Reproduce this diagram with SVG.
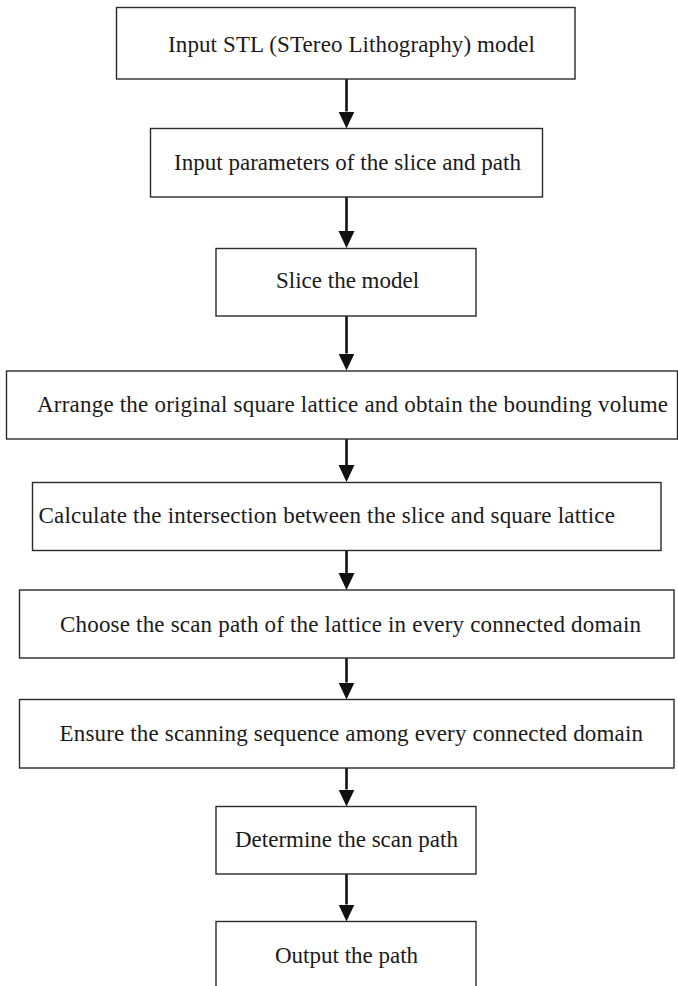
<svg xmlns="http://www.w3.org/2000/svg" width="678" height="986" viewBox="0 0 678 986">
<style>
.box{fill:#fff;stroke:#2a2a2a;stroke-width:1.4}
.lbl{font-family:"Liberation Serif","Times New Roman",serif;font-size:23px;fill:#1a1a1a}
.arr{stroke:#111;stroke-width:2.6;fill:none}
</style>
<defs>
<marker id="ah" markerUnits="userSpaceOnUse" markerWidth="17" markerHeight="17" refX="0" refY="8" orient="auto" viewBox="0 0 17 16">
<path d="M0,0 L17,8 L0,16 Z" fill="#111"/>
</marker>
</defs>
<rect width="678" height="986" fill="#fff"/>
<g id="connectors">
<line class="arr" x1="346.5" y1="79" x2="346.5" y2="111.5" marker-end="url(#ah)"/>
<line class="arr" x1="346.5" y1="197" x2="346.5" y2="231" marker-end="url(#ah)"/>
<line class="arr" x1="346.5" y1="316" x2="346.5" y2="353.5" marker-end="url(#ah)"/>
<line class="arr" x1="346.5" y1="439" x2="346.5" y2="465" marker-end="url(#ah)"/>
<line class="arr" x1="346.5" y1="551" x2="346.5" y2="573" marker-end="url(#ah)"/>
<line class="arr" x1="346.5" y1="658" x2="346.5" y2="682.5" marker-end="url(#ah)"/>
<line class="arr" x1="346.5" y1="768" x2="346.5" y2="789.5" marker-end="url(#ah)"/>
<line class="arr" x1="346.5" y1="874" x2="346.5" y2="904.5" marker-end="url(#ah)"/>
</g>
<g id="n1"><rect class="box" x="116.5" y="7.5" width="458.5" height="71.5"/><text class="lbl" x="168" y="52" textLength="367">Input STL (STereo Lithography) model</text></g>
<g id="n2"><rect class="box" x="150.5" y="128.5" width="392" height="68.5"/><text class="lbl" x="174" y="170" textLength="347">Input parameters of the slice and path</text></g>
<g id="n3"><rect class="box" x="216" y="248.5" width="260" height="67.5"/><text class="lbl" x="276" y="288">Slice the model</text></g>
<g id="n4"><rect class="box" x="6.5" y="371" width="671" height="68"/><text class="lbl" x="37" y="412" textLength="631">Arrange the original square lattice and obtain the bounding volume</text></g>
<g id="n5"><rect class="box" x="32.5" y="482.5" width="628.5" height="68"/><text class="lbl" x="38.5" y="523" textLength="576.5">Calculate the intersection between the slice and square lattice</text></g>
<g id="n6"><rect class="box" x="19.5" y="590" width="654.5" height="68"/><text class="lbl" x="60" y="632" textLength="581">Choose the scan path of the lattice in every connected domain</text></g>
<g id="n7"><rect class="box" x="19.5" y="699.5" width="654.5" height="68.5"/><text class="lbl" x="59.5" y="741" textLength="583.5">Ensure the scanning sequence among every connected domain</text></g>
<g id="n8"><rect class="box" x="216" y="806.5" width="260" height="67.5"/><text class="lbl" x="235" y="847">Determine the scan path</text></g>
<g id="n9"><rect class="box" x="216" y="921.5" width="260" height="80"/><text class="lbl" x="275" y="963">Output the path</text></g>
</svg>
